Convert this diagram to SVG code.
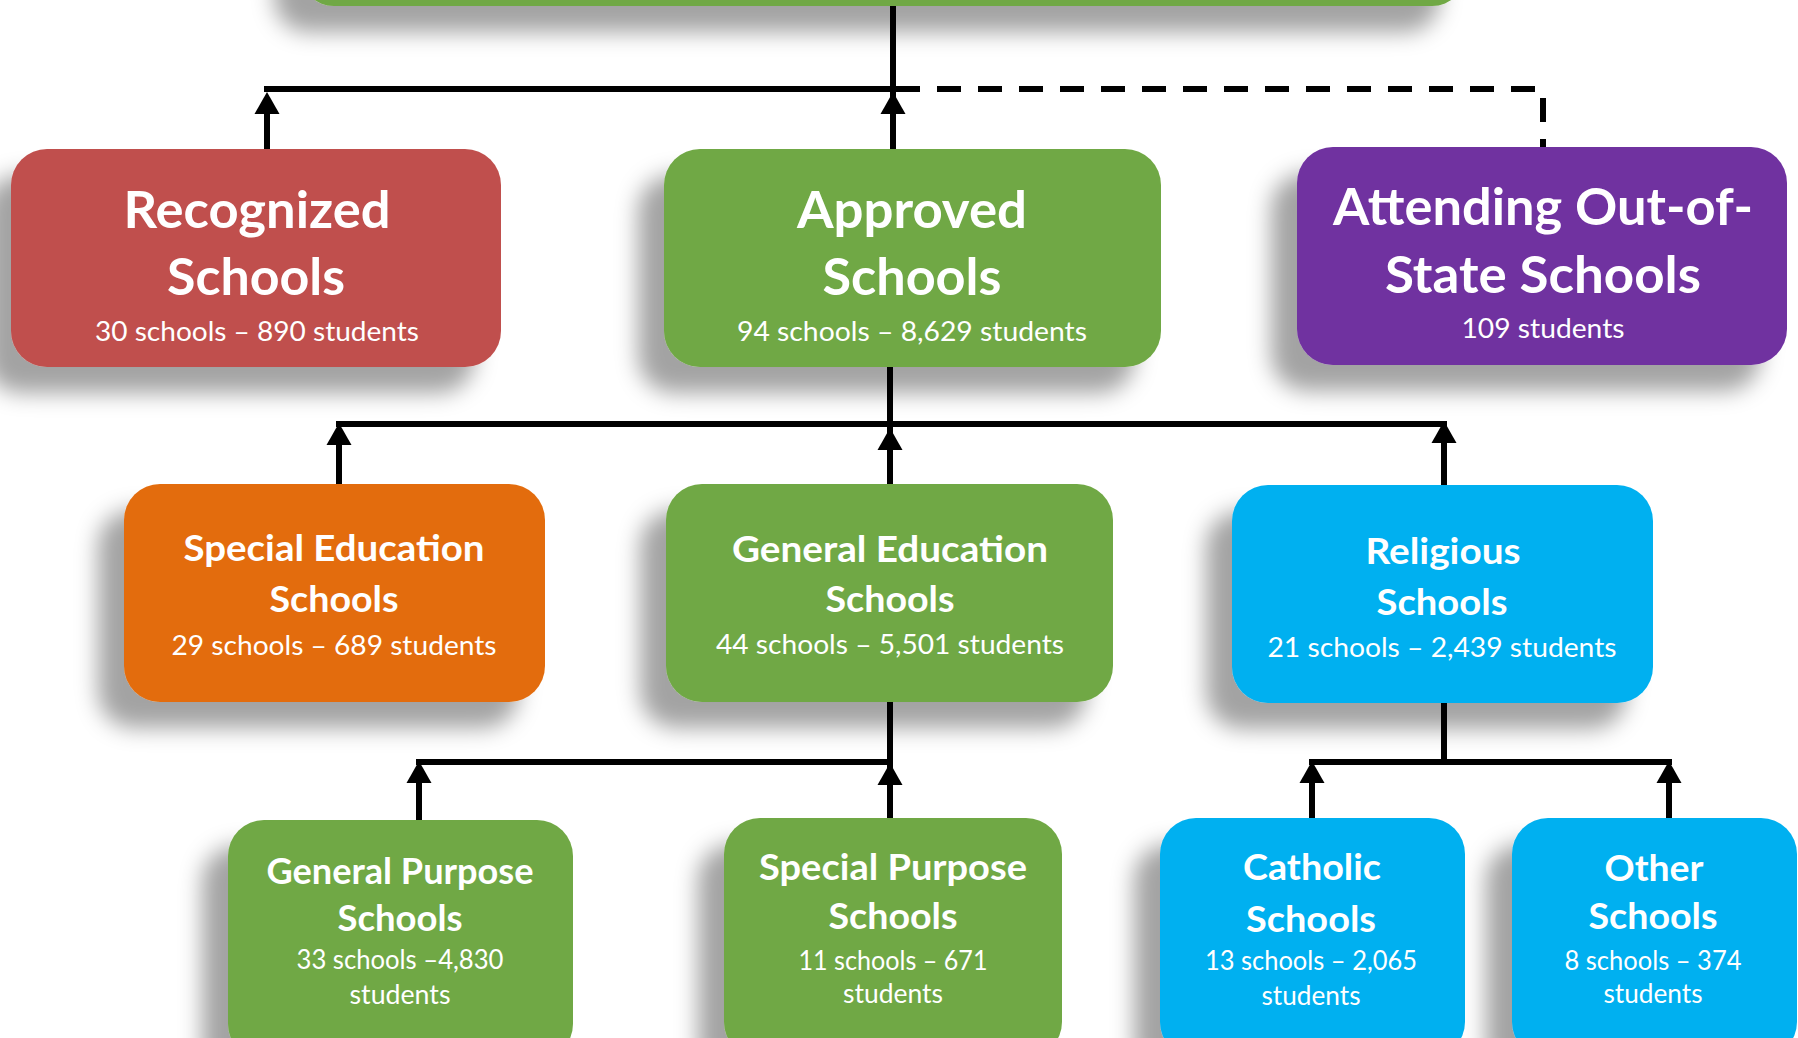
<svg xmlns="http://www.w3.org/2000/svg" width="1798" height="1038" viewBox="0 0 1798 1038">
<style>
.box{filter:url(#sh);}
.t1{font-family:Lato,"Open Sans",sans-serif;font-weight:700;font-size:51px;fill:#fff;text-anchor:middle;}
.t2{font-family:Lato,"Open Sans",sans-serif;font-weight:700;font-size:36px;fill:#fff;text-anchor:middle;}
.s{font-family:Lato,"Open Sans",sans-serif;font-weight:400;font-size:27px;fill:#fff;text-anchor:middle;}
.ln{stroke:#000;stroke-width:6;fill:none;}
.ar{stroke:#000;stroke-width:6;fill:none;marker-end:url(#arr);}
.dash{stroke:#000;stroke-width:6;fill:none;stroke-dasharray:24 17;}
.red{fill:#C0504D;}.green{fill:#70A844;}.purple{fill:#7030A0;}.orange{fill:#E36C0A;}.blue{fill:#00B0F0;}
</style>
<defs>
<filter id="sh" x="-30%" y="-30%" width="160%" height="170%">
<feDropShadow dx="-26" dy="26" stdDeviation="11" flood-color="#000" flood-opacity="0.36"/>
</filter>
<marker id="arr" markerUnits="userSpaceOnUse" markerWidth="23" markerHeight="26" refX="0" refY="12.5" orient="auto" overflow="visible">
<path d="M0,0 L22,12.5 L0,25 Z" fill="#000"/>
</marker>
</defs>
<rect width="1798" height="1038" fill="#fff"/>

<g id="node-top">
<rect class="box green" x="300" y="-120" width="1166" height="126" rx="34"/>
</g>

<g id="node-recognized">
<rect class="box red" x="11" y="149" width="490" height="218" rx="36"/>
<text class="t1" x="257" y="228" textLength="267" lengthAdjust="spacingAndGlyphs">Recognized</text>
<text class="t1" x="256" y="295" textLength="178" lengthAdjust="spacingAndGlyphs">Schools</text>
<text class="s" x="257" y="341" textLength="324" lengthAdjust="spacingAndGlyphs">30 schools – 890 students</text>
</g>

<g id="node-approved">
<rect class="box green" x="664" y="149" width="497" height="218" rx="36"/>
<text class="t1" x="912" y="228" textLength="230" lengthAdjust="spacingAndGlyphs">Approved</text>
<text class="t1" x="912" y="295" textLength="179" lengthAdjust="spacingAndGlyphs">Schools</text>
<text class="s" x="912" y="341" textLength="350" lengthAdjust="spacingAndGlyphs">94 schools – 8,629 students</text>
</g>

<g id="node-outofstate">
<rect class="box purple" x="1297" y="147" width="490" height="218" rx="36"/>
<text class="t1" x="1543" y="225" textLength="420" lengthAdjust="spacingAndGlyphs">Attending Out-of-</text>
<text class="t1" x="1543" y="293" textLength="316" lengthAdjust="spacingAndGlyphs">State Schools</text>
<text class="s" x="1543" y="338" textLength="163" lengthAdjust="spacingAndGlyphs">109 students</text>
</g>

<g id="node-specialed">
<rect class="box orange" x="124" y="484" width="421" height="218" rx="36"/>
<text class="t2" x="334" y="561" textLength="301" lengthAdjust="spacingAndGlyphs">Special Education</text>
<text class="t2" x="334" y="612" textLength="129" lengthAdjust="spacingAndGlyphs">Schools</text>
<text class="s" x="334" y="655" textLength="325" lengthAdjust="spacingAndGlyphs">29 schools – 689 students</text>
</g>

<g id="node-generaled">
<rect class="box green" x="666" y="484" width="447" height="218" rx="36"/>
<text class="t2" x="890" y="562" textLength="316" lengthAdjust="spacingAndGlyphs">General Education</text>
<text class="t2" x="890" y="612" textLength="129" lengthAdjust="spacingAndGlyphs">Schools</text>
<text class="s" x="890" y="654" textLength="348" lengthAdjust="spacingAndGlyphs">44 schools – 5,501 students</text>
</g>

<g id="node-religious">
<rect class="box blue" x="1232" y="485" width="421" height="218" rx="36"/>
<text class="t2" x="1443" y="564" textLength="155" lengthAdjust="spacingAndGlyphs">Religious</text>
<text class="t2" x="1442" y="615" textLength="131" lengthAdjust="spacingAndGlyphs">Schools</text>
<text class="s" x="1442" y="657" textLength="349" lengthAdjust="spacingAndGlyphs">21 schools – 2,439 students</text>
</g>

<g id="node-generalpurpose">
<rect class="box green" x="228" y="820" width="345" height="240" rx="36"/>
<text class="t2" x="400" y="884" textLength="267" lengthAdjust="spacingAndGlyphs">General Purpose</text>
<text class="t2" x="400" y="931" textLength="125" lengthAdjust="spacingAndGlyphs">Schools</text>
<text class="s" x="400" y="969" textLength="207" lengthAdjust="spacingAndGlyphs">33 schools –4,830</text>
<text class="s" x="400" y="1004" textLength="101" lengthAdjust="spacingAndGlyphs">students</text>
</g>

<g id="node-specialpurpose">
<rect class="box green" x="724" y="818" width="338" height="240" rx="36"/>
<text class="t2" x="893" y="880" textLength="268" lengthAdjust="spacingAndGlyphs">Special Purpose</text>
<text class="t2" x="893" y="929" textLength="129" lengthAdjust="spacingAndGlyphs">Schools</text>
<text class="s" x="893" y="970" textLength="189" lengthAdjust="spacingAndGlyphs">11 schools – 671</text>
<text class="s" x="893" y="1003" textLength="100" lengthAdjust="spacingAndGlyphs">students</text>
</g>

<g id="node-catholic">
<rect class="box blue" x="1160" y="818" width="305" height="240" rx="36"/>
<text class="t2" x="1312" y="880" textLength="138" lengthAdjust="spacingAndGlyphs">Catholic</text>
<text class="t2" x="1311" y="932" textLength="130" lengthAdjust="spacingAndGlyphs">Schools</text>
<text class="s" x="1311" y="970" textLength="212" lengthAdjust="spacingAndGlyphs">13 schools – 2,065</text>
<text class="s" x="1311" y="1005" textLength="99" lengthAdjust="spacingAndGlyphs">students</text>
</g>

<g id="node-other">
<rect class="box blue" x="1512" y="818" width="285" height="240" rx="36"/>
<text class="t2" x="1654" y="881" textLength="99" lengthAdjust="spacingAndGlyphs">Other</text>
<text class="t2" x="1653" y="929" textLength="129" lengthAdjust="spacingAndGlyphs">Schools</text>
<text class="s" x="1653" y="970" textLength="177" lengthAdjust="spacingAndGlyphs">8 schools – 374</text>
<text class="s" x="1653" y="1003" textLength="99" lengthAdjust="spacingAndGlyphs">students</text>
</g>

<g id="connectors">
<path class="ln" d="M893,6 V149"/>
<path class="ln" d="M264,89 H896"/>
<path class="dash" d="M896,89 H1543 V147"/>
<path class="ar" d="M267,149 V114"/>
<path class="ar" d="M893,149 V114"/>
<path class="ln" d="M890,367 V484"/>
<path class="ln" d="M336,424 H1447"/>
<path class="ar" d="M339,484 V445"/>
<path class="ar" d="M890,484 V450"/>
<path class="ar" d="M1444,485 V443"/>
<path class="ln" d="M890,702 V818"/>
<path class="ln" d="M416,762 H893"/>
<path class="ar" d="M419,820 V783"/>
<path class="ar" d="M890,818 V785"/>
<path class="ln" d="M1444,703 V762"/>
<path class="ln" d="M1309,762 H1672"/>
<path class="ar" d="M1312,818 V783"/>
<path class="ar" d="M1669,818 V783"/>
</g>
</svg>
